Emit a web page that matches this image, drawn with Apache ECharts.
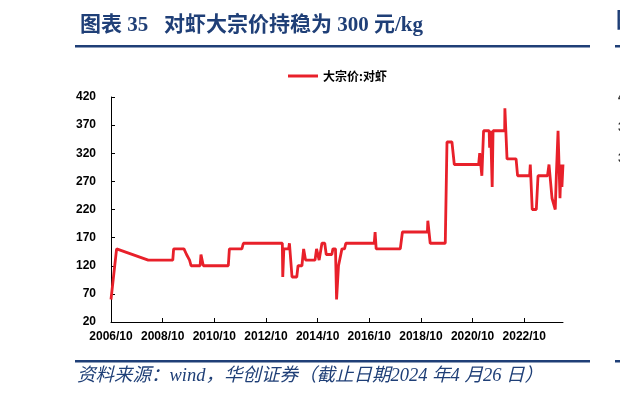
<!DOCTYPE html>
<html><head><meta charset="utf-8">
<script src="https://cdn.jsdelivr.net/npm/echarts@6/dist/echarts.min.js"></script>
<style>html,body{margin:0;padding:0;background:#fff}#c{width:620px;height:398px}</style>
</head><body><div id="c"></div>
<script>
const seriesName = '大宗价:对虾';
const dates = ['2006-10-01','2006-12-19','2008-03-10','2009-02-22','2009-03-04','2009-07-28','2009-09-04','2009-10-16','2009-11-07','2010-03-13','2010-03-25','2010-04-16','2010-04-28','2011-04-16','2011-05-01','2011-10-25','2011-11-16','2013-05-19','2013-05-25','2013-06-10','2013-08-16','2013-08-28','2013-09-22','2013-10-04','2013-12-10','2013-12-28','2014-02-22','2014-03-16','2014-04-13','2014-08-25','2014-09-16','2014-10-07','2014-10-22','2014-11-13','2014-12-01','2015-01-10','2015-02-01','2015-04-19','2015-05-04','2015-06-10','2015-06-25','2015-07-22','2015-08-19','2015-09-10','2015-10-16','2015-11-04','2016-12-10','2016-12-22','2017-01-07','2017-12-13','2018-01-13','2019-01-01','2019-01-07','2019-01-25','2019-02-10','2019-09-10','2019-10-04','2019-12-13','2020-01-16','2020-12-25','2021-01-10','2021-01-25','2021-02-10','2021-03-04','2021-05-22','2021-05-28','2021-06-13','2021-07-04','2021-07-16','2021-12-28','2022-01-01','2022-01-19','2022-02-01','2022-06-07','2022-06-28','2022-12-16','2022-12-25','2023-01-22','2023-03-19','2023-04-13','2023-08-25','2023-09-16','2023-10-04','2023-10-28','2023-11-19','2023-12-13','2023-12-28','2024-01-22','2024-02-19','2024-03-04','2024-03-16','2024-04-01'];
const prices = [60,150,130,130,150,150,140,130,120,120,140,140,120,120,150,150,160,160,100,150,150,160,160,100,100,120,120,150,130,130,150,150,130,130,160,160,140,140,150,150,60,120,120,150,150,160,160,180,150,150,180,180,200,200,160,160,340,340,300,300,320,320,280,360,360,330,360,260,360,360,400,400,310,310,280,280,300,220,220,280,280,300,300,240,240,220,280,360,240,300,260,300];
const xTickLabels = ['2006/10','2008/10','2010/10','2012/10','2014/10','2016/10','2018/10','2020/10','2022/10'];
const yTickValues = [20,70,120,170,220,270,320,370,420];

const startY = 2006, startM = 10;
function toMonths(s){const p=s.split('-').map(Number);return (p[0]-startY)*12+(p[1]-startM)+(p[2]-1)/30;}
const xTickValues = xTickLabels.map(l=>{const p=l.split('/').map(Number);return (p[0]-startY)*12+(p[1]-startM);});
const data = dates.map((d,i)=>[toMonths(d),prices[i]]);
const xMax = toMonths(dates[dates.length-1]);

const chart = echarts.init(document.getElementById('c'));
const lab = {color:'#000',fontFamily:'Liberation Sans, Arial, sans-serif',fontWeight:'bold',fontSize:12};
const blue = '#1F3F77';
chart.setOption({
  animation:false,
  backgroundColor:'#fff',
  title:{text:'图表 35   对虾大宗价持稳为 300 元/kg',left:75,top:10,
    textStyle:{color:blue,fontSize:21,fontWeight:'bold',fontFamily:'Liberation Serif, Noto Sans CJK SC, serif'}},
  legend:{left:283,top:65,icon:'rect',itemWidth:30,itemHeight:3,itemGap:6,
    textStyle:{color:'#000',fontSize:12,fontWeight:'bold',fontFamily:'Noto Sans CJK SC, sans-serif'},
    data:[seriesName]},
  grid:{left:111,right:57,top:97,bottom:76,containLabel:false},
  xAxis:{type:'value',min:0,max:xMax,
    axisLine:{lineStyle:{color:'#000',width:1}},
    axisTick:{inside:true,length:4,lineStyle:{color:'#000'},customValues:xTickValues},
    axisLabel:Object.assign({margin:9,customValues:xTickValues,
      formatter:v=>{const i=xTickValues.indexOf(Math.round(v));return i>=0?xTickLabels[i]:'';}},lab),
    splitLine:{show:false}},
  yAxis:{type:'value',min:yTickValues[0],max:yTickValues[yTickValues.length-1],
    axisLine:{show:true,lineStyle:{color:'#000',width:1}},
    axisTick:{show:true,inside:true,length:4,lineStyle:{color:'#000'},customValues:yTickValues},
    axisLabel:Object.assign({margin:15,customValues:yTickValues},lab),
    splitLine:{show:false}},
  series:[{name:seriesName,type:'line',data:data,showSymbol:false,symbol:'none',
    lineStyle:{color:'#E8202A',width:2.8},itemStyle:{color:'#E8202A'}}],
  graphic:[
    {type:'rect',shape:{x:75,y:45,width:515,height:2.5},style:{fill:blue}},
    {type:'rect',shape:{x:615,y:45,width:5,height:2.5},style:{fill:blue}},
    {type:'rect',shape:{x:75,y:360,width:515,height:2.5},style:{fill:blue}},
    {type:'rect',shape:{x:615,y:360,width:5,height:2.5},style:{fill:blue}},
    {type:'text',left:616,top:9,style:{text:'图',fill:blue,font:'bold 21px Noto Sans CJK SC'}},
    {type:'text',left:618,top:92,style:{text:'4',fill:'#333',font:'bold 12px Liberation Sans'}},
    {type:'text',left:618,top:122,style:{text:'3',fill:'#333',font:'bold 12px Liberation Sans'}},
    {type:'text',left:618,top:153,style:{text:'3',fill:'#333',font:'bold 12px Liberation Sans'}},
    {type:'text',left:77,top:367,style:{text:'资料来源：wind，华创证券（截止日期2024 年4 月26 日）',fill:blue,
      font:'italic 18.5px Liberation Serif, Noto Sans CJK SC, serif'}}
  ]
});
</script></body></html>
